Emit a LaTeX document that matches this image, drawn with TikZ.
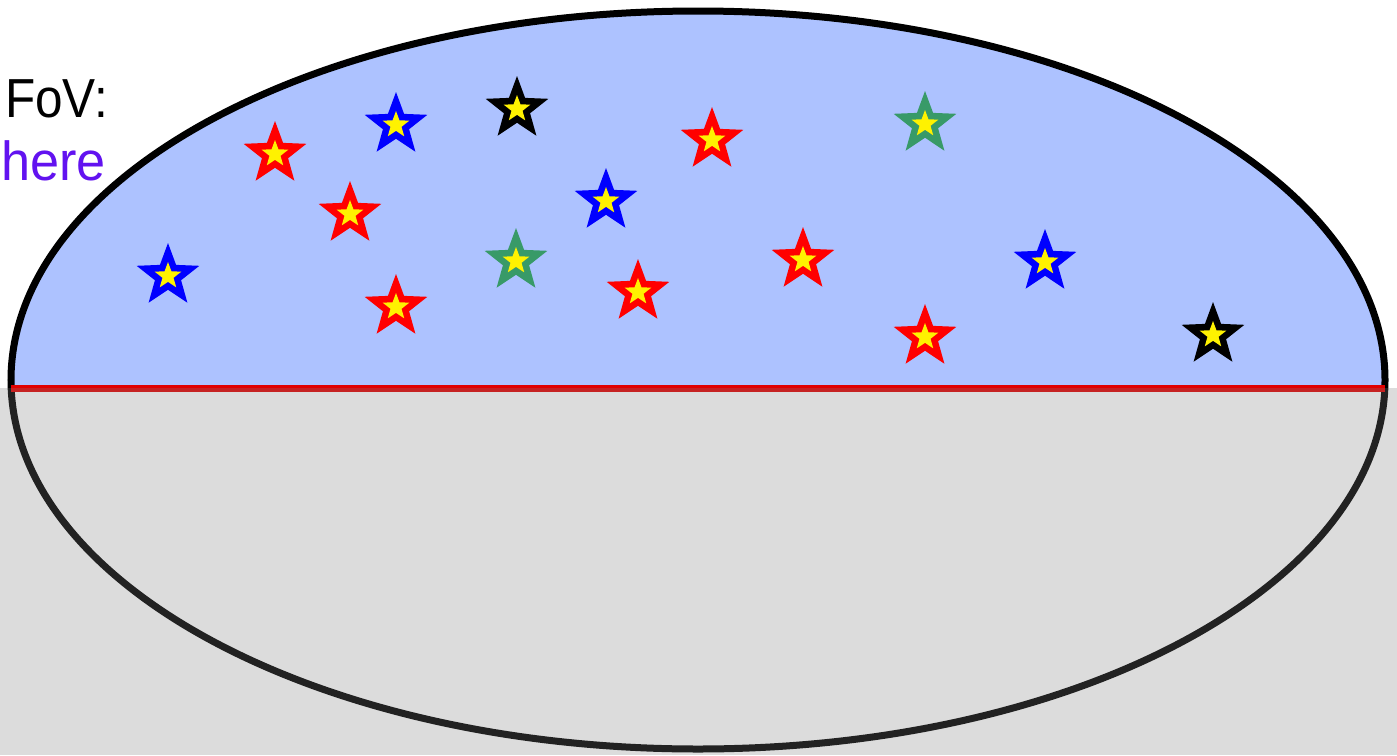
\documentclass[tikz,border=0pt]{standalone}
\usepackage{fontspec}
\setmainfont{Liberation Sans}
\usetikzlibrary{shapes.geometric}
\definecolor{skyblue}{RGB}{173,194,255}
\definecolor{fovpurple}{RGB}{98,18,240}
\definecolor{stargreen}{RGB}{56,154,104}
\definecolor{linered}{RGB}{225,0,0}
\definecolor{groundgray}{RGB}{126,126,126}
\tikzset{
  outerstar/.style={star, star points=5, star point ratio=2.4, inner sep=0pt, minimum size=66pt, fill=#1, draw=none},
  innerstar/.style={star, star points=5, star point ratio=2.4, inner sep=0pt, minimum size=28pt, fill=yellow, draw=none},
  label/.style={font=\fontsize{55}{60}\selectfont, anchor=base east, inner sep=0pt},
}
\begin{document}
\begin{tikzpicture}[x=1pt,y=-1pt]
\useasboundingbox (0,0) rectangle (1397,755);
\clip (0,0) rectangle (1397,755);
\fill[white] (0,0) rectangle (1397,755);
% upper half of sky
\begin{scope}
  \clip (0,0) rectangle (1397,388);
  \fill[skyblue] (698,380) ellipse [x radius=687, y radius=369];
\end{scope}
\draw[line width=7pt, black] (698,380) ellipse [x radius=687, y radius=369];
\coordinate (hl) at (11,388);
\coordinate (hr) at (1385,388);
\draw[line width=7pt, linered] (hl) -- (hr);
% stars
\foreach \n/\x/\y/\c in {
  1/168/276/blue, 2/275/154/red, 3/396/125/blue, 4/517/109/black,
  5/350/214/red, 6/396/307/red, 7/516/261/stargreen, 8/606/201/blue,
  9/638/292/red, 10/712/140/red, 11/803/260/red, 12/925/124/stargreen,
  13/925/337/red, 14/1045/262/blue, 15/1213/335/black}{
  \node[outerstar=\c] (s\n) at (\x,\y) {};
  \node[innerstar] (y\n) at (s\n) {};
}
% texts
\node[label, text=black] (fov) at (108,117) {\scalebox{0.9}[1]{FoV:}};
\node[label, text=fovpurple] (here) at (106,180) {\scalebox{0.95}[1]{here}};
% ground shading
\fill[groundgray, opacity=0.27] (0,388) rectangle (1397,755);
\end{tikzpicture}
\end{document}
